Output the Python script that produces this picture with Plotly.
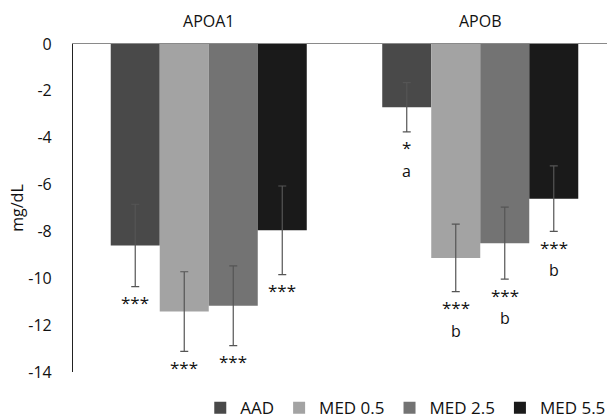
import plotly.graph_objects as go

categories = ["APOA1", "APOB"]
series = ["AAD", "MED 0.5", "MED 2.5", "MED 5.5"]
colors = ["#494949", "#a3a3a3", "#737373", "#1a1a1a"]

aad = [-8.6, -2.7]
med05 = [-11.42, -9.13]
med25 = [-11.17, -8.5]
med55 = [-7.95, -6.6]

aad_err = [1.76, 1.05]
med05_err = [1.7, 1.44]
med25_err = [1.7, 1.54]
med55_err = [1.89, 1.4]

aad_sig = ["***", "*"]
med05_sig = ["***", "***"]
med25_sig = ["***", "***"]
med55_sig = ["***", "***"]

aad_letter = ["", "a"]
med05_letter = ["", "b"]
med25_letter = ["", "b"]
med55_letter = ["", "b"]

y_ticks = [0, -2, -4, -6, -8, -10, -12, -14]
y_ticktext = ["0", "-2", "-4", "-6", "-8", "-10", "-12", "-14"]

values = [aad, med05, med25, med55]
errors = [aad_err, med05_err, med25_err, med55_err]
sigs = [aad_sig, med05_sig, med25_sig, med55_sig]
letters = [aad_letter, med05_letter, med25_letter, med55_letter]

FONT = "Open Sans"
xpos = list(range(len(categories)))
bargap = 0.278
bw = (1 - bargap) / len(series)

fig = go.Figure()
for i, name in enumerate(series):
    fig.add_trace(go.Bar(
        x=xpos, y=values[i], name=name,
        marker=dict(color=colors[i], line=dict(width=0)),
        error_y=dict(type="data", array=errors[i], color="#555555",
                     thickness=1.2, width=4),
    ))

annotations = []
for i in range(len(series)):
    for j in range(len(categories)):
        xc = j + (i - (len(series) - 1) / 2) * bw
        ybot = values[i][j] - errors[i][j]
        if sigs[i][j]:
            annotations.append(dict(x=xc, y=ybot, xref="x", yref="y",
                                    text=sigs[i][j], showarrow=False,
                                    yanchor="middle", yshift=-16, borderpad=0,
                                    font=dict(family=FONT, size=17, color="#111")))
        if letters[i][j]:
            annotations.append(dict(x=xc, y=ybot, xref="x", yref="y",
                                    text=letters[i][j], showarrow=False,
                                    yanchor="middle", yshift=-39, borderpad=0,
                                    font=dict(family=FONT, size=16, color="#111")))

fig.update_layout(
    width=607, height=418,
    margin=dict(l=73, r=0, t=44, b=46, autoexpand=False),
    paper_bgcolor="white", plot_bgcolor="white",
    barmode="group", bargap=bargap, bargroupgap=0,
    font=dict(family=FONT, size=16, color="#111"),
    showlegend=True,
    legend=dict(orientation="h", x=1.008, xanchor="right", y=-0.11,
                yanchor="middle", font=dict(family=FONT, size=17, color="#111"),
                traceorder="normal", bgcolor="rgba(0,0,0,0)"),
    annotations=annotations,
    xaxis=dict(side="top", tickmode="array", tickvals=xpos, ticktext=categories,
               range=[-0.5, -0.5 + 534 / 271.5], showline=True, linecolor="#8a8a8a",
               linewidth=1.2, showgrid=False, zeroline=False, ticks="",
               ticklabelstandoff=10, tickfont=dict(family=FONT, size=16, color="#111")),
    yaxis=dict(range=[-14, 0], tickmode="array", tickvals=y_ticks, ticktext=y_ticktext,
               showline=True, linecolor="#222222", linewidth=1.2,
               showgrid=False, zeroline=False, ticks="",
               ticklabelstandoff=17, tickfont=dict(family=FONT, size=16, color="#111"),
               title=dict(text="mg/dL", standoff=0,
                          font=dict(family=FONT, size=16, color="#111"))),
)

fig.write_html("out.html")
